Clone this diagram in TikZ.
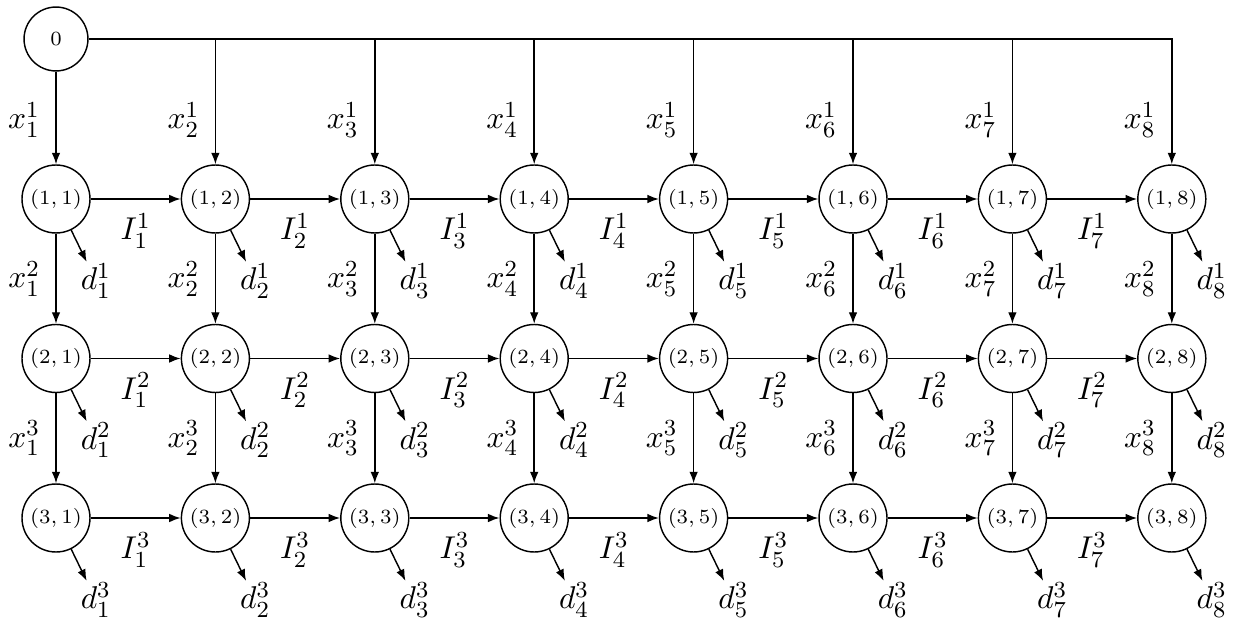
\documentclass[tikz,border=0pt]{standalone}
\usepackage{amsmath}
\usetikzlibrary{arrows.meta}
\begin{document}
\begin{tikzpicture}[x=0.0122cm,y=-0.0122cm,line width=0.5pt,>={Latex[length=4pt,width=3pt]},
    cell/.style={circle,draw,minimum size=0.83cm,inner sep=0pt,font=\scriptsize},
    lab/.style={inner sep=0.5pt,font=\fontsize{10.95}{13.6}\selectfont}]
    \useasboundingbox (0,0) rectangle (1234,618);
    % source and grid of cells
    \node[cell,minimum size=0.78cm] (s0) at (56,39) {$0$};
    \foreach \i in {1,2,3} \foreach \j in {1,...,8}
        \node[cell] (n\i\j) at ({56+159.4*(\j-1)},{199+159.5*(\i-1)}) {$(\i,\j)$};
    % supply from the source
    \draw[->] (s0) -| (n18);
    \draw[->] (s0) -- (n11);
    \foreach \j in {2,...,7}
        \draw[->] (s0.east -| n1\j) -- (n1\j);
    \foreach \j in {1,...,8}
        \node[lab] (x1\j) at ({24+159.4*(\j-1)},120) {$x_{\j}^{1}$};
    % flow down the stages
    \foreach \i/\k in {1/2,2/3} \foreach \j in {1,...,8}
        \draw[->] (n\i\j) -- node[lab,left=4.8pt] (x\k\j) {$x_{\j}^{\k}$} (n\k\j);
    % inventory carried over
    \foreach \i in {1,2,3} \foreach \j [count=\k from 2] in {1,...,7}
        \draw[->] (n\i\j) -- node[lab,below=4.3pt] (I\i\j) {$I_{\j}^{\i}$} (n\i\k);
    % demand
    \foreach \i in {1,2,3} \foreach \j in {1,...,8} {
        \draw[->] (n\i\j.-64) -- ++(-64:0.43cm);
        \path (n\i\j) ++(-64:1.11cm) node[lab] (d\i\j) {$d_{\j}^{\i}$};
    }
\end{tikzpicture}
\end{document}
